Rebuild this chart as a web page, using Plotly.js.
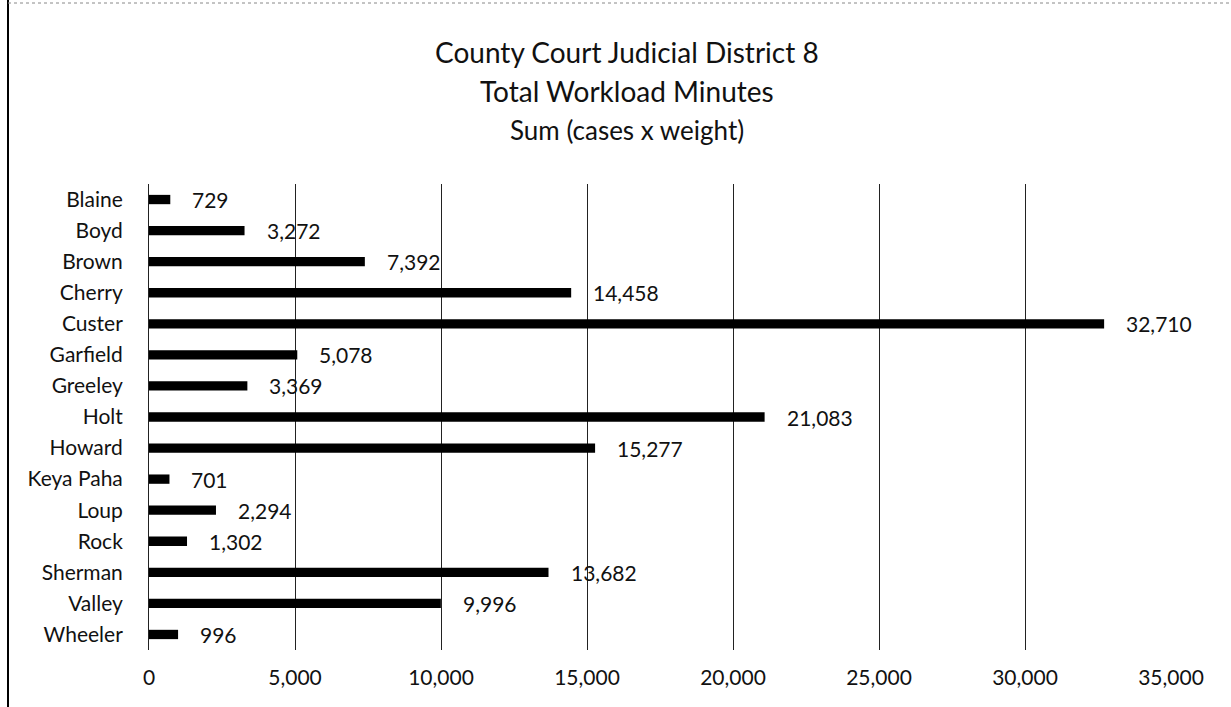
<!DOCTYPE html>
<html>
<head>
<meta charset="utf-8">
<script src="https://cdn.plot.ly/plotly-3.0.1.min.js"></script>
<style>html,body{margin:0;padding:0;background:#fff;}#chart{width:1231px;height:707px;}</style>
</head>
<body>
<div id="chart"></div>
<script>
const counties = ["Blaine","Boyd","Brown","Cherry","Custer","Garfield","Greeley","Holt","Howard","Keya Paha","Loup","Rock","Sherman","Valley","Wheeler"];
const minutes = [729,3272,7392,14458,32710,5078,3369,21083,15277,701,2294,1302,13682,9996,996];
const xTicks = [0,5000,10000,15000,20000,25000,30000,35000];
const xTickLabels = ["0","5,000","10,000","15,000","20,000","25,000","30,000","35,000"];
const titleLines = ["County Court Judicial District 8","Total Workload Minutes","Sum (cases x weight)"];

const font = "Lato, 'Open Sans', sans-serif";
const L = 149, R = 60, T = 184, B = 57, W = 1231, H = 707;
const pw = W - L - R, ph = H - T - B;
const px = x => (x - L) / pw;
const py = y => (H - B - y) / ph;

const trace = {
  type: "bar",
  orientation: "h",
  y: counties,
  x: minutes,
  marker: {color: "#000"},
  hoverinfo: "none"
};

const valueLabels = minutes.map((v, i) => ({
  text: v.toLocaleString("en-US"), x: v, y: counties[i],
  xref: "x", yref: "y", xanchor: "left", yanchor: "middle",
  xshift: 20, showarrow: false,
  font: {family: font, size: 21, color: "#111"}
}));

const titleY = [52, 91, 130];
const titleSize = [28, 28, 26];
const titleAnn = titleLines.map((t, i) => ({
  text: t, xref: "paper", yref: "paper",
  x: px(627), y: py(titleY[i]), xanchor: "center", yanchor: "middle",
  showarrow: false, font: {family: font, size: titleSize[i], color: "#111"}
}));

const layout = {
  width: W, height: H,
  paper_bgcolor: "#fff", plot_bgcolor: "#fff",
  margin: {l: L, r: R, t: T, b: B},
  showlegend: false,
  bargap: 0.7,
  xaxis: {
    range: [0, 35000],
    tickvals: xTicks, ticktext: xTickLabels,
    showgrid: true, gridcolor: "#222", gridwidth: 1,
    zeroline: false, showline: false,
    ticks: "", ticklabelstandoff: 13,
    tickfont: {family: font, size: 21, color: "#111"},
    fixedrange: true
  },
  yaxis: {
    autorange: "reversed",
    showgrid: false, zeroline: false,
    showline: true, linecolor: "#222", linewidth: 1,
    ticks: "", ticklabelstandoff: 21,
    tickfont: {family: font, size: 21, color: "#111"},
    fixedrange: true
  },
  annotations: titleAnn.concat(valueLabels),
  shapes: [
    {type: "line", xref: "paper", yref: "paper", x0: px(8), x1: px(8), y0: py(H), y1: py(0), line: {color: "#000", width: 2}},
    {type: "line", xref: "paper", yref: "paper", x0: px(8), x1: px(W), y0: py(3), y1: py(3), line: {color: "#888", width: 1, dash: "dot"}}
  ],
  font: {family: font}
};

Plotly.newPlot("chart", [trace], layout, {staticPlot: true, displayModeBar: false});
</script>
</body>
</html>
